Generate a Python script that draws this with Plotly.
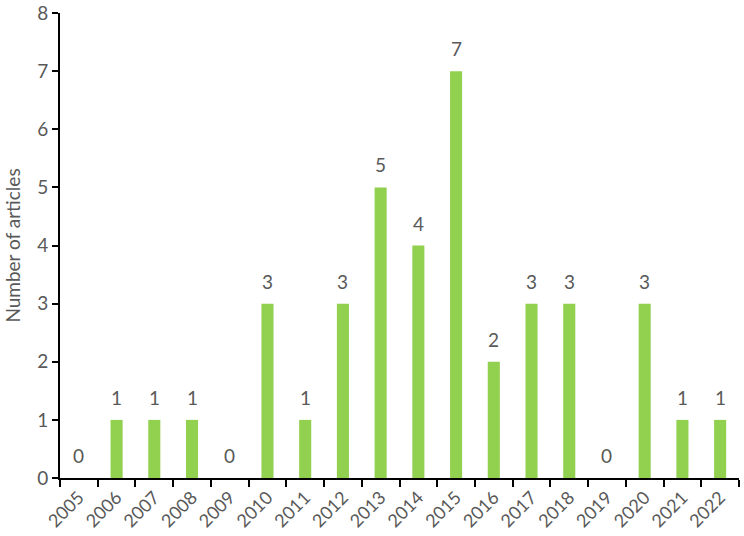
import plotly.graph_objects as go

years = [str(y) for y in range(2005, 2023)]
articles = [0, 1, 1, 1, 0, 3, 1, 3, 5, 4, 7, 2, 3, 3, 0, 3, 1, 1]
y_ticks = list(range(0, 9))

FONT = "Lato"
GREY = "#595959"

fig = go.Figure(go.Bar(
    x=years, y=articles,
    marker=dict(color="#92D050", line=dict(width=0)),
    width=0.32,
    cliponaxis=False,
))

for i, v in enumerate(articles):
    fig.add_annotation(
        x=i, y=v, text=str(v), showarrow=False,
        yanchor="bottom", yshift=9,
        font=dict(family=FONT, size=19, color=GREY),
    )

fig.update_layout(
    width=744, height=536,
    margin=dict(l=60, r=5, t=13, b=58),
    paper_bgcolor="white", plot_bgcolor="white",
    showlegend=False,
    font=dict(family=FONT, size=19, color=GREY),
)
fig.update_xaxes(
    type="category", range=[-0.5, len(years) - 0.5], automargin=False,
    showline=True, linecolor="black", linewidth=2,
    ticks="outside", tickson="boundaries", ticklen=7, tickwidth=2, tickcolor="black",
    tickangle=-45, tickfont=dict(family=FONT, size=18, color=GREY),
    showgrid=False, zeroline=False,
)
fig.update_yaxes(
    range=[0, 8], tickmode="array", tickvals=y_ticks, ticktext=[str(t) for t in y_ticks],
    ticklabeloverflow="allow", automargin=False,
    showline=True, linecolor="black", linewidth=2,
    ticks="outside", ticklen=6, tickwidth=2, tickcolor="black",
    tickfont=dict(family=FONT, size=19, color=GREY),
    showgrid=False, zeroline=False,
    title=dict(text="Number of articles", font=dict(family=FONT, size=19, color=GREY), standoff=12),
)

fig.write_html("out.html")
